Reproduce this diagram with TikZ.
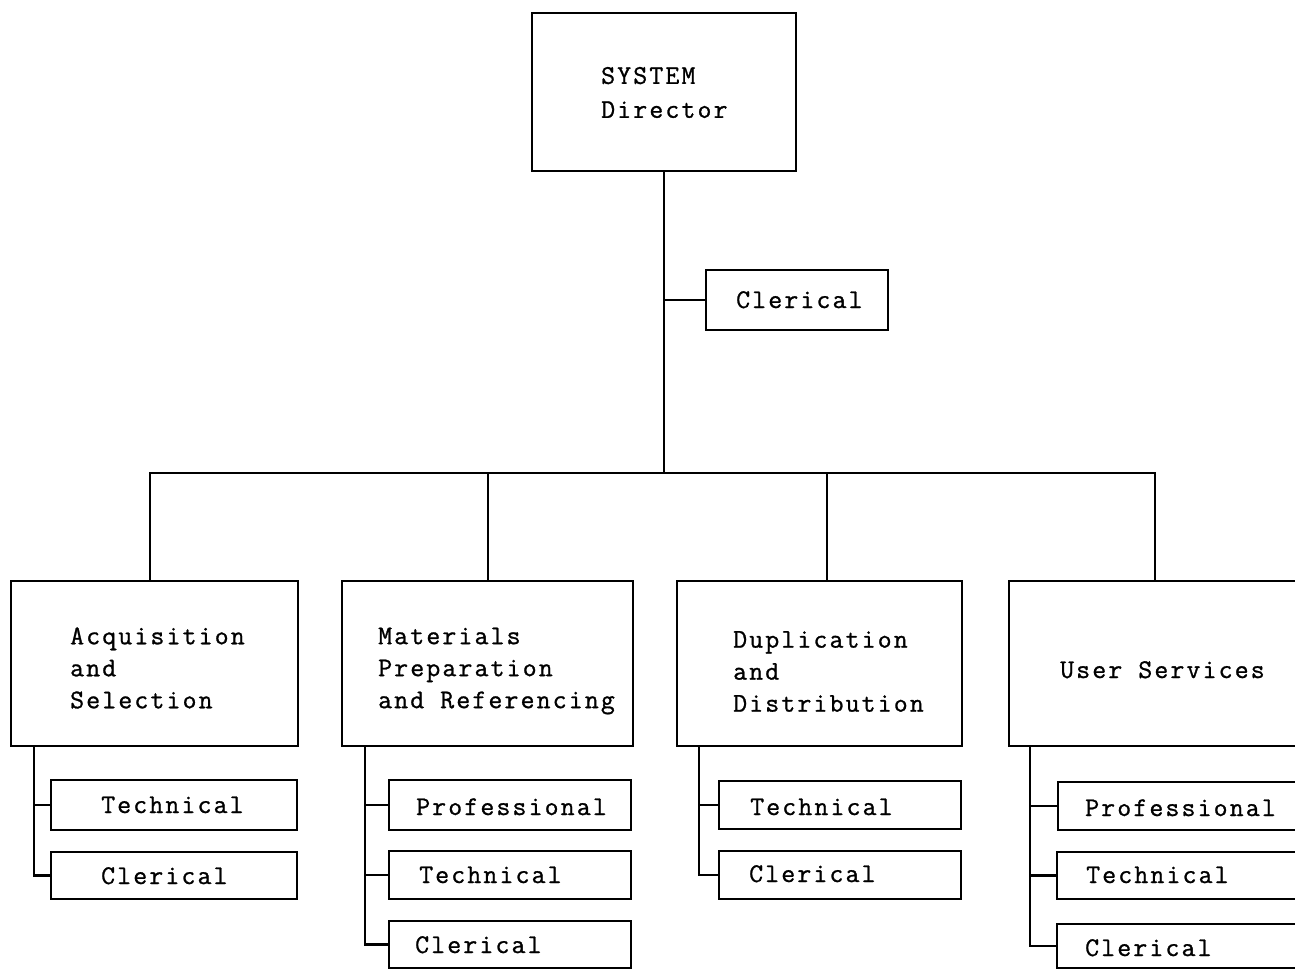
\documentclass[tikz,border=0pt]{standalone}
\usepackage{fontspec}
\newfontfamily\typefont[LetterSpace=8,FakeBold=1]{Latin Modern Mono}
\begin{document}
\begin{tikzpicture}[x=1pt,y=-1pt,
  box/.style={draw,line width=2.6pt,inner sep=0pt},
  lbl/.style={inner sep=0pt,anchor=base west,font=\typefont\fontsize{27}{32}\selectfont},
  mlbl/.style={inner sep=0pt,anchor=west,align=left,font=\typefont\fontsize{27}{32}\selectfont},
  conn/.style={line width=2.4pt,line cap=rect,line join=miter}]
\useasboundingbox (0,0) rectangle (1295,971);
\clip (0,0) rectangle (1295,971);

% director and its clerical staff
\node[box,minimum width=264pt,minimum height=158pt] (top) at (664,92) {};
\node[mlbl,font=\typefont\fontsize{27}{34}\selectfont] (topT) at (601,92.5) {SYSTEM\\Director};
\node[box,minimum width=182pt,minimum height=60pt] (topcl) at (797,300) {};
\node[lbl] (topclT) at (736,308) {Clerical};

% departments
\node[box,minimum width=287pt,minimum height=165pt] (d1) at (154.5,663.5) {};
\node[box,minimum width=291pt,minimum height=165pt] (d2) at (487.5,663.5) {};
\node[box,minimum width=285pt,minimum height=165pt] (d3) at (819.5,663.5) {};
\node[box,minimum width=290pt,minimum height=165pt] (d4) at (1154,663.5) {};
\node[mlbl] (d1T) at (70,668) {Acquisition\\and\\Selection};
\node[mlbl] (d2T) at (378,671) {Materials\\Preparation\\and Referencing};
\node[mlbl] (d3T) at (733,671.5) {Duplication\\and\\Distribution};
\node[lbl] (d4T) at (1060,678) {User Services};

% staff boxes
\node[box,minimum width=246pt,minimum height=50pt] (d1t) at (174,805) {};
\node[box,minimum width=246pt,minimum height=47pt] (d1c) at (174,875.5) {};
\node[box,minimum width=242pt,minimum height=50pt] (d2p) at (510,805) {};
\node[box,minimum width=242pt,minimum height=48pt] (d2t) at (510,875) {};
\node[box,minimum width=242pt,minimum height=47pt] (d2c) at (510,944.5) {};
\node[box,minimum width=242pt,minimum height=48pt] (d3t) at (840,805) {};
\node[box,minimum width=242pt,minimum height=48pt] (d3c) at (840,875) {};
\node[box,minimum width=242pt,minimum height=48pt] (d4p) at (1179,806) {};
\node[box,minimum width=242pt,minimum height=47pt] (d4t) at (1178,875.5) {};
\node[box,minimum width=242pt,minimum height=44pt] (d4c) at (1178,946) {};

\node[lbl] (d1tT) at (101,813) {Technical};
\node[lbl] (d1cT) at (101,884) {Clerical};
\node[lbl] (d2pT) at (416,815) {Professional};
\node[lbl] (d2tT) at (419,883) {Technical};
\node[lbl] (d2cT) at (415,953) {Clerical};
\node[lbl] (d3tT) at (750,815) {Technical};
\node[lbl] (d3cT) at (749,882) {Clerical};
\node[lbl] (d4pT) at (1085,816) {Professional};
\node[lbl] (d4tT) at (1086,883) {Technical};
\node[lbl] (d4cT) at (1085,956) {Clerical};

% trunk and bus
\coordinate (bus) at (664,473);
\coordinate (b1) at (150,473);
\coordinate (b2) at (488,473);
\coordinate (b3) at (827,473);
\coordinate (b4) at (1155,473);
\draw[conn] (top.south) -- (bus);
\draw[conn] (top.south |- topcl.west) -- (topcl.west);
\draw[conn] (b1) -- (b4);
\draw[conn] (b1) -- (b1 |- d1.north);
\draw[conn] (b2) -- (b2 |- d2.north);
\draw[conn] (b3) -- (b3 |- d3.north);
\draw[conn] (b4) -- (b4 |- d4.north);

% spines to staff boxes
\coordinate (s1) at ([xshift=24pt]d1.south west);
\coordinate (s2) at ([xshift=24pt]d2.south west);
\coordinate (s3) at ([xshift=23pt]d3.south west);
\coordinate (s4) at ([xshift=22pt]d4.south west);
\draw[conn] (s1) |- (d1c.west);
\draw[conn] (s1 |- d1t.west) -- (d1t.west);
\draw[conn] (s2) |- (d2c.west);
\draw[conn] (s2 |- d2p.west) -- (d2p.west);
\draw[conn] (s2 |- d2t.west) -- (d2t.west);
\draw[conn] (s3) |- (d3c.west);
\draw[conn] (s3 |- d3t.west) -- (d3t.west);
\draw[conn] (s4) |- (d4c.west);
\draw[conn] (s4 |- d4p.west) -- (d4p.west);
\draw[conn] (s4 |- d4t.west) -- (d4t.west);
\end{tikzpicture}
\end{document}
